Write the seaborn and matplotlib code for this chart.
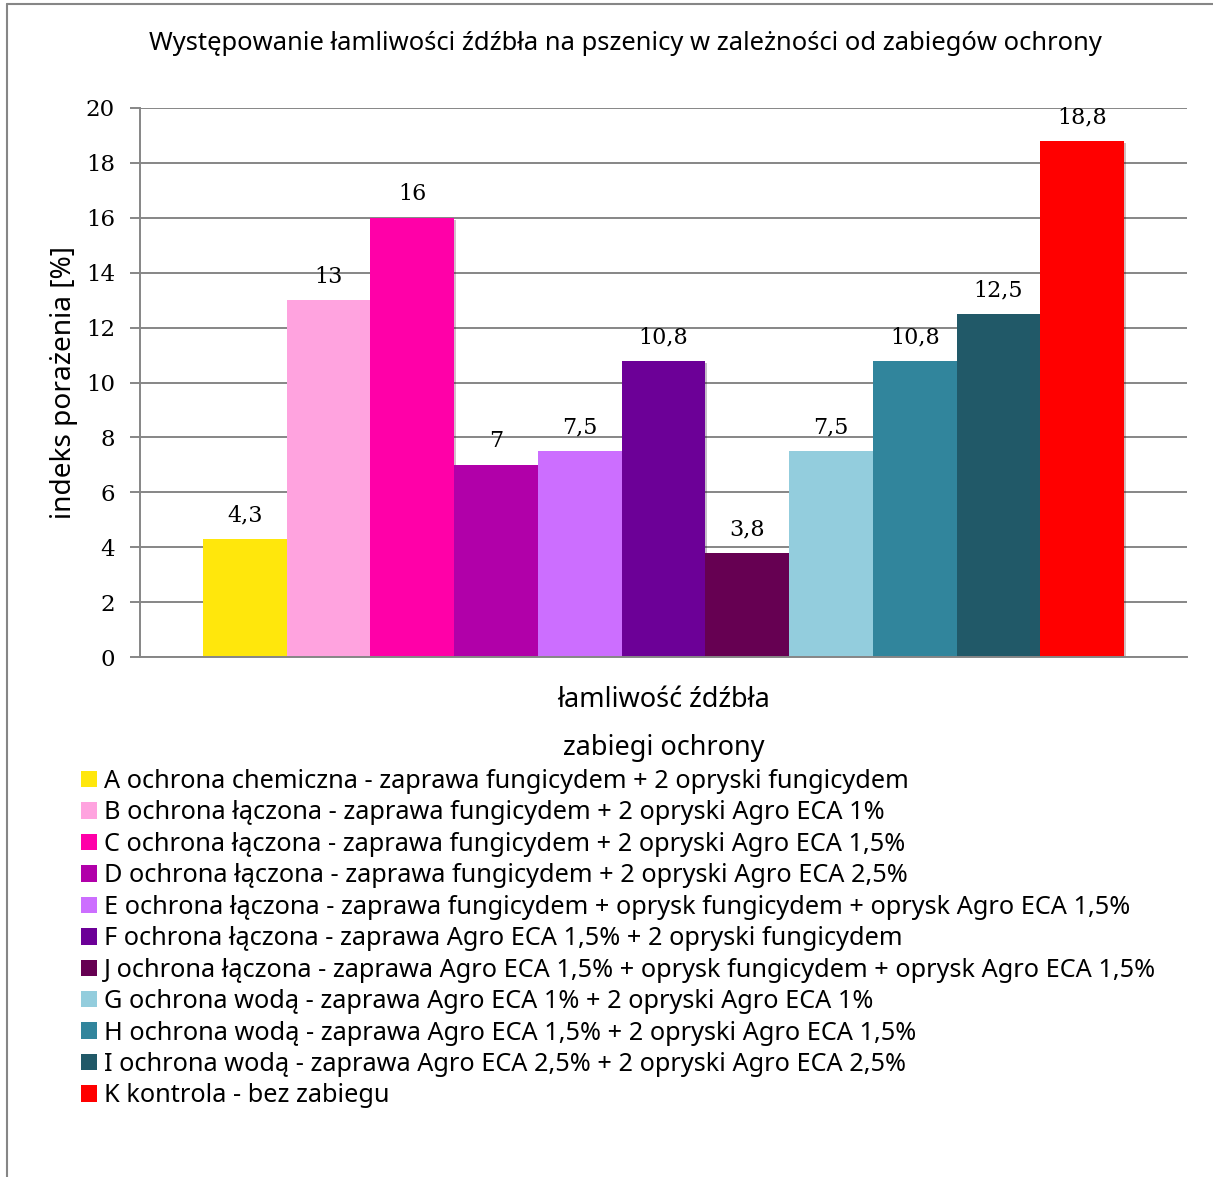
import matplotlib
matplotlib.use("Agg")
import matplotlib.pyplot as plt
import matplotlib.patheffects as pe
from matplotlib.lines import Line2D
import seaborn as sns
import pandas as pd

# ---- data ----
category = ["łamliwość źdźbła"]
treatments = [
    "A ochrona chemiczna - zaprawa fungicydem + 2 opryski fungicydem",
    "B ochrona łączona - zaprawa fungicydem + 2 opryski Agro ECA 1%",
    "C ochrona łączona - zaprawa fungicydem + 2 opryski Agro ECA 1,5%",
    "D ochrona łączona - zaprawa fungicydem + 2 opryski Agro ECA 2,5%",
    "E ochrona łączona - zaprawa fungicydem + oprysk fungicydem + oprysk Agro ECA 1,5%",
    "F ochrona łączona - zaprawa Agro ECA 1,5% + 2 opryski fungicydem",
    "J ochrona łączona - zaprawa Agro ECA 1,5% + oprysk fungicydem + oprysk Agro ECA 1,5%",
    "G ochrona wodą - zaprawa Agro ECA 1% + 2 opryski Agro ECA 1%",
    "H ochrona wodą - zaprawa Agro ECA 1,5% + 2 opryski Agro ECA 1,5%",
    "I ochrona wodą - zaprawa Agro ECA 2,5% + 2 opryski Agro ECA 2,5%",
    "K kontrola - bez zabiegu",
]
values = [4.3, 13, 16, 7, 7.5, 10.8, 3.8, 7.5, 10.8, 12.5, 18.8]
colors = ["#FFE70C", "#FFA3DF", "#FF00A8", "#B100A9", "#CC6EFF", "#6C0097",
          "#660052", "#93CDDD", "#31859C", "#215968", "#FF0000"]
yticks = [0, 2, 4, 6, 8, 10, 12, 14, 16, 18, 20]

title = "Występowanie łamliwości źdźbła na pszenicy w zależności od zabiegów ochrony"
ylabel = "indeks porażenia [%]"
xlabel = "zabiegi ochrony"

df = pd.DataFrame({"kategoria": category * len(treatments),
                   "zabieg": treatments,
                   "wartosc": values})

sns.set_theme(style="white")
plt.rcParams["font.family"] = ["Noto Sans", "DejaVu Sans"]
plt.rcParams.update({"text.color": "black", "axes.labelcolor": "black",
                     "xtick.color": "black", "ytick.color": "black"})

W, H = 1213, 1177
fig = plt.figure(figsize=(W / 100, H / 100), dpi=100)
ax = fig.add_axes([140 / W, 1 - 657 / H, (1187 - 140) / W, (657 - 108) / H])

sns.barplot(data=df, x="kategoria", y="wartosc", hue="zabieg",
            hue_order=treatments, palette=colors, saturation=1,
            width=0.88, ax=ax, legend=True, linewidth=0)

grid_c = "#868686"
ax.set_ylim(0, 20)
ax.set_xlim(-0.5, 0.5)
ax.set_yticks(yticks)
ax.set_yticklabels([str(t) for t in yticks], family=["DejaVu Serif"], fontsize=16.5)
ax.yaxis.grid(True, color=grid_c, linewidth=1.4)
ax.set_axisbelow(True)
ax.tick_params(axis="y", length=7, width=1.4, color=grid_c, labelcolor="black", pad=11, left=True)
ax.tick_params(axis="x", length=0, pad=21, labelsize=19.5, labelcolor="black")
for s in ["top", "right"]:
    ax.spines[s].set_visible(False)
for s in ["left", "bottom"]:
    ax.spines[s].set_color(grid_c)
    ax.spines[s].set_linewidth(1.4)

for cont in ax.containers:
    for bar in cont:
        bar.set_path_effects([pe.SimplePatchShadow(offset=(1.5, -1.5), alpha=0.25), pe.Normal()])
    labs = [f"{v:g}".replace(".", ",") for v in cont.datavalues]
    ax.bar_label(cont, labels=labs, padding=9, family=["DejaVu Serif"], fontsize=16, color="black")

ax.set_ylabel(ylabel, fontsize=20.2, labelpad=6)
ax.set_xlabel(xlabel, fontsize=19.5, labelpad=14)

fig.text(0.5 * (150 + 1100) / W, 1 - 43 / H, title, ha="center", va="center", fontsize=18.4)

handles, labels = ax.get_legend_handles_labels()
ax.legend_.remove()
fig.legend(handles, labels, loc="upper left", bbox_to_anchor=(81 / W, 1 - 769 / H),
           frameon=False, fontsize=18.2, handlelength=0.62, handleheight=0.62,
           handletextpad=0.3, labelspacing=0.255, borderaxespad=0, borderpad=0)

fig.add_artist(Line2D([7 / W, 7 / W], [0, 1 - 4 / H], color=grid_c, linewidth=1.5))
fig.add_artist(Line2D([7 / W, 1], [1 - 4 / H, 1 - 4 / H], color=grid_c, linewidth=1.5))

fig.savefig("out.png", dpi=100)
